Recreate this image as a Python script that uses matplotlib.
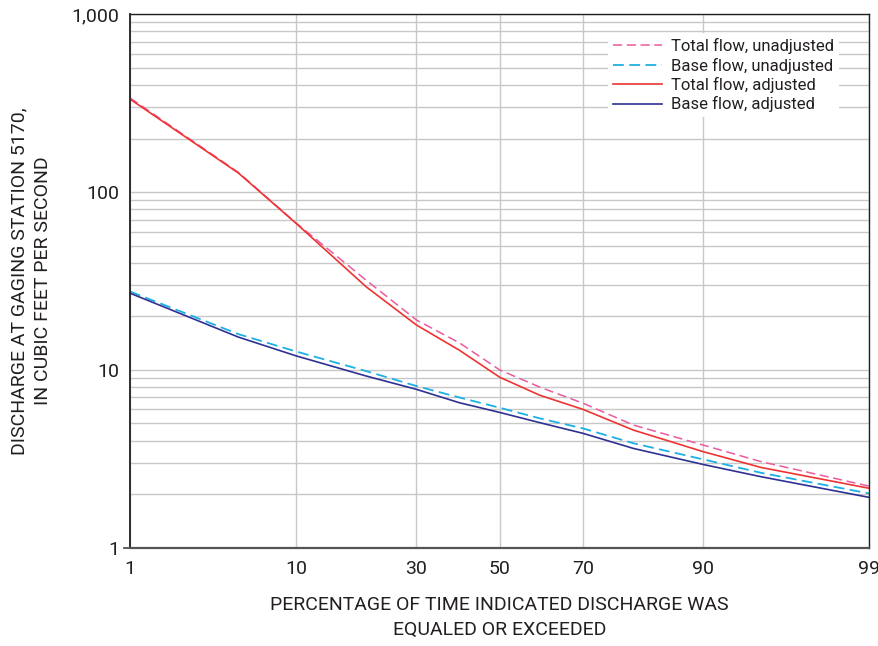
import numpy as np
import matplotlib
matplotlib.use('Agg')
import matplotlib.pyplot as plt
from matplotlib.ticker import FixedLocator, NullFormatter, NullLocator, LogLocator
from statistics import NormalDist

plt.rcParams['font.family'] = ['Roboto', 'DejaVu Sans']

# percent of time discharge equaled or exceeded
pct = [1, 5, 10, 20, 30, 40, 50, 60, 70, 80, 90, 95, 99]

total_unadj = [338, 129, 67, 32, 19.1, 14.2, 10.0, 8.0, 6.5, 4.9, 3.78, 3.05, 2.22]
base_unadj = [27.6, 15.9, 12.7, 9.86, 8.12, 7.0, 6.13, 5.34, 4.69, 3.87, 3.14, 2.64, 2.02]
total_adj = [333, 128, 66.7, 29.4, 17.9, 12.9, 9.1, 7.2, 6.0, 4.59, 3.47, 2.83, 2.16]
base_adj = [27.0, 15.3, 12.0, 9.25, 7.78, 6.54, 5.77, 5.05, 4.40, 3.62, 2.94, 2.51, 1.92]

x_ticks = [1, 10, 30, 50, 70, 90, 99]
y_ticks = [1, 10, 100, 1000]
y_labels = ['1', '10', '100', '1,000']

_nd = NormalDist()
_inv = np.vectorize(_nd.inv_cdf, otypes=[float])
_cdf = np.vectorize(_nd.cdf, otypes=[float])


# normal probability scale for the x axis
def prob_fwd(p):
    p = np.clip(np.asarray(p, dtype=float) / 100.0, 1e-9, 1 - 1e-9)
    return _inv(p)


def prob_inv(z):
    return _cdf(np.asarray(z, dtype=float)) * 100.0


fig = plt.figure(figsize=(8.79, 6.46), dpi=100)
ax = fig.add_axes([0.148, 0.152, 0.841, 0.826])

ax.plot(pct, total_unadj, color='#ec5a9e', lw=1.1, ls=(0, (6, 3)), label='Total flow, unadjusted')
ax.plot(pct, base_unadj, color='#1cb0e4', lw=1.3, ls=(0, (6, 3)), label='Base flow, unadjusted')
ax.plot(pct, total_adj, color='#ee3333', lw=1.2, label='Total flow, adjusted')
ax.plot(pct, base_adj, color='#2e3192', lw=1.2, label='Base flow, adjusted')

ax.set_xscale('function', functions=(prob_fwd, prob_inv))
ax.set_yscale('log')
ax.set_xlim(1, 99)
ax.set_ylim(1, 1000)

ax.xaxis.set_major_locator(FixedLocator(x_ticks))
ax.set_xticklabels([str(t) for t in x_ticks])
ax.xaxis.set_minor_locator(NullLocator())
ax.yaxis.set_major_locator(FixedLocator(y_ticks))
ax.set_yticklabels(y_labels)
ax.yaxis.set_minor_locator(LogLocator(base=10, subs=np.arange(2, 10)))
ax.yaxis.set_minor_formatter(NullFormatter())

ax.tick_params(axis='x', length=0, pad=9, labelsize=14, colors='#231f20')
ax.tick_params(axis='y', which='major', length=0, pad=8, labelsize=14, colors='#231f20')
ax.tick_params(axis='y', which='minor', length=0)

# gridlines
ax.grid(True, which='major', axis='both', color='#c8c8c8', lw=1.0)
ax.grid(True, which='minor', axis='y', color='#c8c8c8', lw=1.0)
ax.set_axisbelow(True)

# only the 1 tick has a mark
ax.plot([-0.008, 0], [1, 1], transform=ax.get_yaxis_transform(), color='#444444',
        lw=1.2, clip_on=False)

for side in ['left', 'top', 'right']:
    ax.spines[side].set_color('#231f20')
    ax.spines[side].set_linewidth(1.0)
ax.spines['left'].set_linewidth(1.3)
ax.spines['bottom'].set_color('#555555')
ax.spines['bottom'].set_linewidth(1.6)

ax.set_xlabel('PERCENTAGE OF TIME INDICATED DISCHARGE WAS\nEQUALED OR EXCEEDED',
              fontsize=14, labelpad=13, color='#231f20', linespacing=1.45)
ax.set_ylabel('DISCHARGE AT GAGING STATION 5170,\nIN CUBIC FEET PER SECOND',
              fontsize=14, labelpad=14, color='#231f20', linespacing=1.35)

leg = ax.legend(loc='upper right', bbox_to_anchor=(0.97, 0.98), frameon=True,
                fontsize=12, handlelength=2.9, handletextpad=0.55,
                labelspacing=0.2, borderpad=0.3)
leg.get_frame().set_facecolor('white')
leg.get_frame().set_edgecolor('none')
leg.get_frame().set_alpha(1.0)
for t in leg.get_texts():
    t.set_color('#231f20')

fig.savefig('out.png', dpi=100)
